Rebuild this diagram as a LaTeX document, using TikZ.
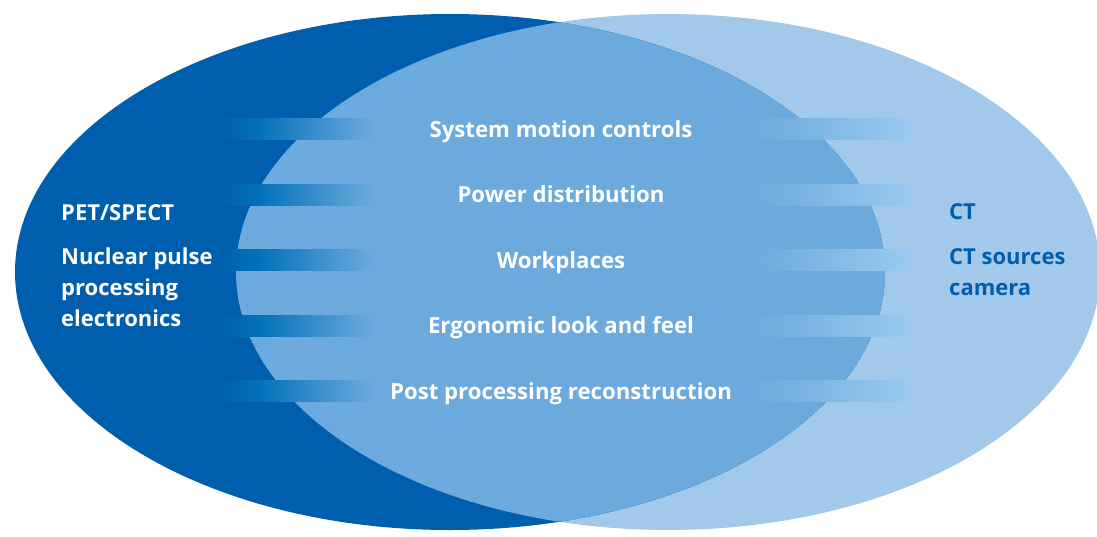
\documentclass[tikz,border=0pt]{standalone}
\usepackage{fontspec}
\setmainfont{Open Sans}
\begin{document}
\begin{tikzpicture}[x=1pt,y=-1pt,
  lab/.style={font=\bfseries\fontsize{22.2}{22.2}\selectfont, text=white, inner sep=0pt, anchor=base},
  side/.style={font=\bfseries\fontsize{22}{22}\selectfont, inner sep=0pt, anchor=base west},
]
\definecolor{dark}{RGB}{0,94,174}
\definecolor{mid}{RGB}{108,170,221}
\definecolor{light}{RGB}{162,200,234}
\definecolor{brite}{RGB}{0,112,184}
\definecolor{lbrite}{RGB}{152,200,238}
\useasboundingbox (0,0) rectangle (1097,536);
\fill[light] (668,272) ellipse [x radius=432, y radius=258];
\fill[dark] (450,272) ellipse [x radius=435, y radius=258];
\begin{scope}
  \clip (668,272) ellipse [x radius=432, y radius=258];
  \fill[mid] (450,272) ellipse [x radius=435, y radius=258];
\end{scope}
\foreach \y in {129,194.5,260,325.5,391}{
  \shade[left color=dark, right color=brite] (217,\y-10.5) rectangle (256,\y+10.5);
  \shade[left color=brite, right color=mid] (255.5,\y-10.5) rectangle (373,\y+10.5);
  \shade[left color=mid, right color=lbrite] (753,\y-10.5) rectangle (905,\y+10.5);
  \shade[left color=lbrite, right color=light] (904.5,\y-10.5) rectangle (912,\y+10.5);
}
\node[lab] (c1) at (561,137) {System motion controls};
\node[lab] (c2) at (561,202.5) {Power distribution};
\node[lab] (c3) at (561,268) {Workplaces};
\node[lab] (c4) at (561,333.5) {Ergonomic look and feel};
\node[lab] (c5) at (561,399) {Post processing reconstruction};
\node[side, text=white] (l1) at (61,220) {PET/SPECT};
\node[side, text=white] (l2) at (61,264) {Nuclear pulse};
\node[side, text=white] (l3) at (61,295) {processing};
\node[side, text=white] (l4) at (61,326) {electronics};
\node[side, text=dark] (r1) at (949,219) {CT};
\node[side, text=dark] (r2) at (949,264) {CT sources};
\node[side, text=dark] (r3) at (949,295) {camera};
\end{tikzpicture}
\end{document}
